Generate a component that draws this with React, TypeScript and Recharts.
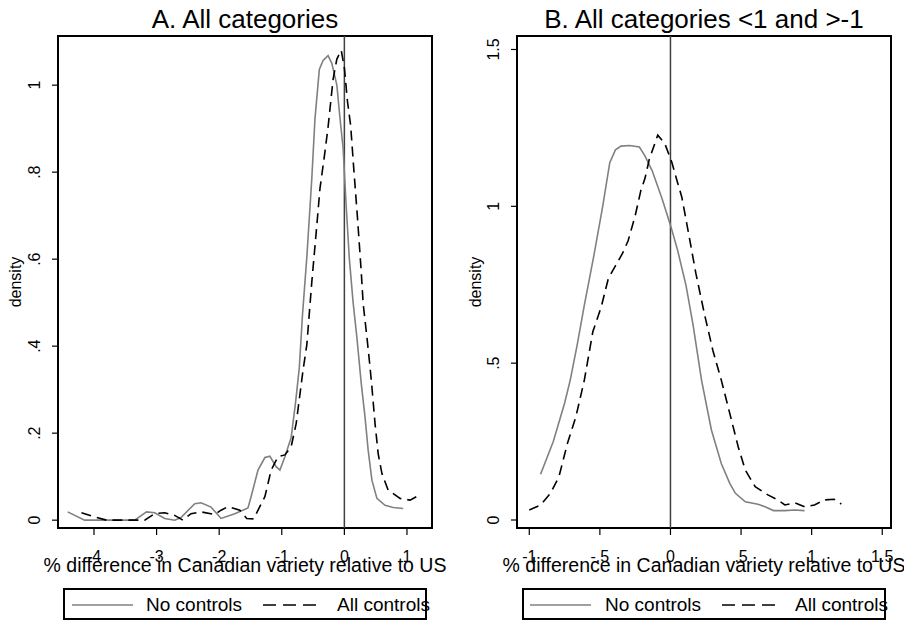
import React from 'react';
import { LineChart, Line, XAxis, YAxis, ReferenceLine, ReferenceArea, Label } from 'recharts';

// Panel A: all categories (kernel density)
const aNoX = [-4.42, -4.15, -3.35, -3.16, -3.03, -2.87, -2.71, -2.61, -2.39, -2.29, -2.13, -1.97, -1.75, -1.54, -1.49, -1.38, -1.27, -1.19, -1.09, -1.03, -0.95, -0.85, -0.78, -0.72, -0.67, -0.6, -0.52, -0.47, -0.4, -0.34, -0.26, -0.2, -0.12, -0.07, -0.02, 0.03, 0.08, 0.14, 0.2, 0.27, 0.33, 0.38, 0.44, 0.52, 0.65, 0.78, 0.94];
const aNoY = [0.019, 0.0, 0.0, 0.019, 0.017, 0.004, 0.0, 0.006, 0.038, 0.04, 0.03, 0.004, 0.015, 0.028, 0.054, 0.115, 0.144, 0.147, 0.123, 0.115, 0.146, 0.19, 0.27, 0.35, 0.47, 0.604, 0.786, 0.922, 1.036, 1.057, 1.068, 1.05, 1.0, 0.924, 0.855, 0.72, 0.6, 0.5, 0.42, 0.314, 0.237, 0.161, 0.092, 0.05, 0.034, 0.029, 0.027];
const aAllX = [-4.2, -4.02, -3.8, -3.35, -3.19, -3.03, -2.87, -2.71, -2.58, -2.45, -2.29, -2.07, -1.97, -1.86, -1.67, -1.56, -1.45, -1.27, -1.17, -1.06, -0.95, -0.85, -0.77, -0.66, -0.6, -0.52, -0.44, -0.39, -0.31, -0.26, -0.18, -0.12, -0.05, 0.0, 0.05, 0.1, 0.15, 0.21, 0.27, 0.3, 0.36, 0.41, 0.44, 0.49, 0.54, 0.6, 0.7, 0.89, 1.05, 1.15, 1.2];
const aAllY = [0.017, 0.009, 0.0, 0.0, 0.0, 0.015, 0.017, 0.011, 0.0, 0.015, 0.019, 0.013, 0.023, 0.031, 0.023, 0.004, 0.003, 0.054, 0.115, 0.146, 0.15, 0.169, 0.222, 0.345, 0.403, 0.548, 0.678, 0.762, 0.847, 0.904, 1.014, 1.06, 1.08, 1.04, 0.962, 0.908, 0.808, 0.694, 0.57, 0.498, 0.421, 0.352, 0.306, 0.222, 0.153, 0.107, 0.069, 0.05, 0.046, 0.054, 0.048];

// Panel B: categories between -1 and 1
const bNoX = [-0.92, -0.83, -0.75, -0.71, -0.66, -0.61, -0.54, -0.48, -0.43, -0.39, -0.35, -0.29, -0.22, -0.18, -0.13, -0.06, 0.0, 0.05, 0.11, 0.16, 0.22, 0.29, 0.36, 0.42, 0.46, 0.53, 0.62, 0.67, 0.73, 0.81, 0.88, 0.95];
const bNoY = [0.146, 0.25, 0.372, 0.446, 0.56, 0.685, 0.849, 1.0, 1.139, 1.18, 1.192, 1.194, 1.189, 1.16, 1.114, 1.025, 0.94, 0.861, 0.748, 0.622, 0.446, 0.287, 0.18, 0.117, 0.085, 0.058, 0.05, 0.042, 0.03, 0.03, 0.032, 0.03];
const bAllX = [-1.0, -0.92, -0.85, -0.79, -0.73, -0.67, -0.61, -0.55, -0.49, -0.44, -0.39, -0.34, -0.3, -0.25, -0.21, -0.18, -0.15, -0.09, -0.04, 0.01, 0.05, 0.08, 0.12, 0.18, 0.24, 0.3, 0.36, 0.42, 0.48, 0.53, 0.6, 0.69, 0.76, 0.81, 0.88, 0.95, 1.02, 1.09, 1.16, 1.21];
const bAllY = [0.032, 0.048, 0.085, 0.138, 0.244, 0.329, 0.446, 0.6, 0.68, 0.77, 0.81, 0.85, 0.89, 0.97, 1.05, 1.09, 1.15, 1.227, 1.2, 1.14, 1.076, 1.03, 0.934, 0.786, 0.658, 0.541, 0.446, 0.34, 0.233, 0.159, 0.106, 0.08, 0.064, 0.048, 0.055, 0.042, 0.048, 0.064, 0.066, 0.051];

const aXTicks = [-4, -3, -2, -1, 0, 1];
const aYTicks = [0, 0.2, 0.4, 0.6, 0.8, 1];
const bXTicks = [-1, -0.5, 0, 0.5, 1, 1.5];
const bYTicks = [0, 0.5, 1, 1.5];

const seriesNames = ['No controls', 'All controls'];
const titles = ['A. All categories', 'B. All categories <1 and >-1'];
const xTitle = '% difference in Canadian variety relative to US';
const yTitle = 'density';

const toPoints = (xs: number[], ys: number[]) => xs.map((x, i) => ({ x, y: ys[i] }));
// Stata style: ".5" instead of "0.5"
const fmt = (v: number) => String(v).replace(/^(-?)0\./, '$1.');

const SOLID = '#808080';
const DASH = '#000';

function XTick({ x, y, payload }: any) {
  return (
    <text x={x} y={y + 25} textAnchor="middle" fontSize={16} fill="#000">
      {fmt(payload.value)}
    </text>
  );
}

function YTick({ x, y, payload }: any) {
  const bx = x - 10;
  return (
    <text x={bx} y={y} transform={`rotate(-90, ${bx}, ${y})`} textAnchor="middle" fontSize={16} fill="#000">
      {fmt(payload.value)}
    </text>
  );
}

interface PanelProps {
  left: number;
  yAxisWidth: number;
  marginRight: number;
  xDomain: [number, number];
  yDomain: [number, number];
  xTicks: number[];
  yTicks: number[];
  noCtrl: { x: number; y: number }[];
  allCtrl: { x: number; y: number }[];
  densityX: number;
}

function Panel(p: PanelProps) {
  return (
    <div style={{ position: 'absolute', left: p.left, top: 0 }}>
      <LineChart width={452} height={621} margin={{ top: 36, right: p.marginRight, bottom: 0, left: 0 }}>
        <XAxis
          type="number"
          dataKey="x"
          domain={p.xDomain}
          ticks={p.xTicks}
          allowDataOverflow
          height={93}
          axisLine={false}
          tickLine={{ stroke: '#000', strokeWidth: 1.2 }}
          tickSize={7}
          tick={<XTick />}
        >
          <Label
            content={(lp: any) => {
              const vb = lp.viewBox || {};
              return (
                <text x={vb.x + vb.width / 2} y={572} textAnchor="middle" fontSize={19.5} fill="#000">
                  {xTitle}
                </text>
              );
            }}
          />
        </XAxis>
        <YAxis
          type="number"
          domain={p.yDomain}
          ticks={p.yTicks}
          allowDataOverflow
          width={p.yAxisWidth}
          axisLine={false}
          tickLine={{ stroke: '#000', strokeWidth: 1.2 }}
          tickSize={6}
          tick={<YTick />}
        >
          <Label
            content={(lp: any) => {
              const vb = lp.viewBox || {};
              const cy = vb.y + vb.height / 2;
              return (
                <text x={p.densityX} y={cy} transform={`rotate(-90, ${p.densityX}, ${cy})`} textAnchor="middle" fontSize={16} fill="#000">
                  {yTitle}
                </text>
              );
            }}
          />
        </YAxis>
        <ReferenceArea
          x1={p.xDomain[0]}
          x2={p.xDomain[1]}
          y1={p.yDomain[0]}
          y2={p.yDomain[1]}
          fill="none"
          stroke="#000"
          strokeWidth={2}
          ifOverflow="visible"
        />
        <ReferenceLine x={0} stroke="#404040" strokeWidth={1.5} />
        <Line
          data={p.noCtrl}
          dataKey="y"
          name={seriesNames[0]}
          type="linear"
          stroke={SOLID}
          strokeWidth={1.6}
          dot={false}
          activeDot={false}
          isAnimationActive={false}
        />
        <Line
          data={p.allCtrl}
          dataKey="y"
          name={seriesNames[1]}
          type="linear"
          stroke={DASH}
          strokeWidth={1.6}
          strokeDasharray="10 6"
          dot={false}
          activeDot={false}
          isAnimationActive={false}
        />
      </LineChart>
    </div>
  );
}

function LegendBox({ x, sx, tx, dx, ex }: { x: number; sx: number; tx: number; dx: number; ex: number }) {
  return (
    <g>
      <rect x={x} y={589} width={362} height={30} fill="none" stroke="#000" strokeWidth={2} />
      <line x1={sx} y1={605} x2={sx + 61} y2={605} stroke={SOLID} strokeWidth={1.6} />
      <text x={tx} y={611} fontSize={19} fill="#000">{seriesNames[0]}</text>
      <line x1={dx} y1={605} x2={dx + 54} y2={605} stroke={DASH} strokeWidth={1.6} strokeDasharray="13 7" />
      <text x={ex} y={611} fontSize={19} fill="#000">{seriesNames[1]}</text>
    </g>
  );
}

export default function App() {
  return (
    <div style={{ position: 'relative', width: 904, height: 621, background: '#fff', fontFamily: '"Liberation Sans", Arial, sans-serif' }}>
      <style>{'body{margin:0}'}</style>
      <Panel
        left={0}
        yAxisWidth={58}
        marginRight={20}
        xDomain={[-4.575, 1.4]}
        yDomain={[-0.018, 1.113]}
        xTicks={aXTicks}
        yTicks={aYTicks}
        noCtrl={toPoints(aNoX, aNoY)}
        allCtrl={toPoints(aAllX, aAllY)}
        densityX={21}
      />
      <Panel
        left={452}
        yAxisWidth={65}
        marginRight={13}
        xDomain={[-1.087, 1.562]}
        yDomain={[-0.0255, 1.543]}
        xTicks={bXTicks}
        yTicks={bYTicks}
        noCtrl={toPoints(bNoX, bNoY)}
        allCtrl={toPoints(bAllX, bAllY)}
        densityX={29}
      />
      <svg width={904} height={621} style={{ position: 'absolute', left: 0, top: 0, pointerEvents: 'none' }}>
        <text x={245} y={28} textAnchor="middle" fontSize={26} fill="#000">{titles[0]}</text>
        <text x={704} y={28} textAnchor="middle" fontSize={26} fill="#000">{titles[1]}</text>
        <LegendBox x={64} sx={72} tx={146} dx={263} ex={337} />
        <LegendBox x={523} sx={530} tx={605} dx={722} ex={795} />
      </svg>
    </div>
  );
}
